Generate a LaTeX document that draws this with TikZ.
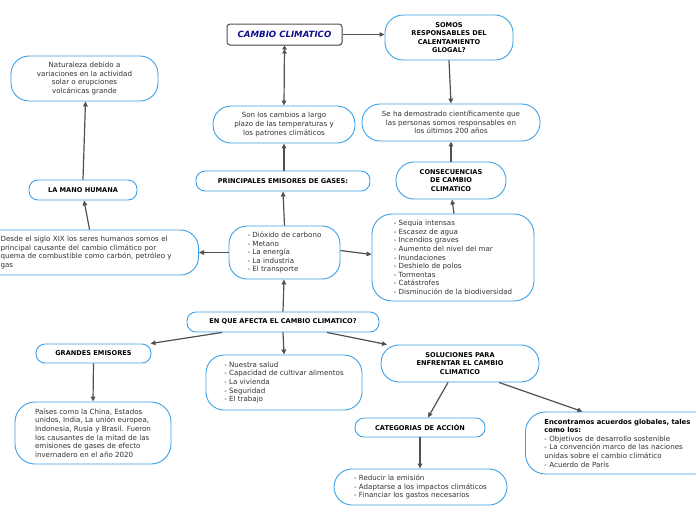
\documentclass[tikz,border=0pt]{standalone}
\usepackage{fontspec}
\setmainfont{DejaVu Sans}
\usetikzlibrary{arrows.meta,shadows}
\definecolor{nodeblue}{RGB}{61,160,230}
\definecolor{linegrey}{RGB}{80,80,80}
\definecolor{txtgrey}{RGB}{50,50,50}
\definecolor{navy}{RGB}{16,16,140}
\tikzset{
  bubble/.style={draw=nodeblue, line width=0.9pt, fill=white, rounded corners=18pt,
    inner sep=0pt, text=txtgrey, font=\fontsize{7.1}{8.6}\selectfont},
  smallbubble/.style={bubble, rounded corners=9pt},
  boldtxt/.style={text=black, font=\fontsize{6.6}{8.6}\selectfont\bfseries},
  titlebox/.style={draw=linegrey, line width=1pt, fill=white, rounded corners=3pt,
    inner sep=0pt, text=navy, font=\fontsize{8.6}{10}\selectfont\bfseries\itshape,
    drop shadow={shadow xshift=0.8pt, shadow yshift=-0.8pt, opacity=0.35}},
  link/.style={draw=linegrey, line width=1.2pt, -{Triangle[length=5pt,width=4.5pt]}},
}
\begin{document}
\begin{tikzpicture}[x=1pt,y=-1pt]
\useasboundingbox (0,0) rectangle (696,520);

\node[titlebox, minimum width=115pt, minimum height=21pt] (cc) at (284.5,34.5) {CAMBIO CLIMATICO};

\node[bubble, boldtxt, minimum width=128pt, minimum height=45pt, align=center] (somos) at (449,37.5)
  {SOMOS\\RESPONSABLES DEL\\CALENTAMIENTO\\GLOGAL?};

\node[bubble, minimum width=147pt, minimum height=45pt, align=center] (nat) at (84.5,78.5)
  {Naturaleza debido a\\variaciones en la actividad\\solar o erupciones\\volcánicas grande};

\node[bubble, minimum width=142pt, minimum height=37pt, align=center] (son) at (284,124.5)
  {Son los cambios a largo\\plazo de las temperaturas y\\los patrones climáticos};

\node[bubble, minimum width=178pt, minimum height=37pt, align=center] (seha) at (451,122.5)
  {Se ha demostrado científicamente que\\las personas somos responsables en\\los últimos 200 años};

\node[bubble, boldtxt, minimum width=110pt, minimum height=37pt, align=center] (cons) at (451,180.5)
  {CONSECUENCIAS\\DE CAMBIO\\CLIMATICO};

\node[smallbubble, boldtxt, minimum width=174pt, minimum height=20pt] (prin) at (283,181)
  {PRINCIPALES EMISORES DE GASES:};

\node[smallbubble, boldtxt, minimum width=108pt, minimum height=20pt] (mano) at (83,190)
  {LA MANO HUMANA};

\node[bubble, text width=172pt, inner xsep=26pt, minimum height=45pt, align=left, anchor=east] (desde) at (199,252.5)
  {Desde el siglo XIX los seres humanos somos el\\principal causante del cambio climático por\\quema de combustible como carbón, petróleo y\\gas};

\node[bubble, minimum width=111pt, minimum height=53pt, align=left] (diox) at (284.5,252.5)
  {- Dióxido de carbono\\- Metano\\- La energía\\- La industria\\- El transporte};

\node[bubble, rounded corners=20pt, minimum width=162pt, minimum height=87pt, align=left] (seq) at (453,257.5)
  {- Sequia intensas\\- Escasez de agua\\- Incendios graves\\- Aumento del nivel del mar\\- Inundaciones\\- Deshielo de polos\\- Tormentas\\- Catástrofes\\- Disminución de la biodiversidad};

\node[smallbubble, boldtxt, minimum width=192pt, minimum height=20pt] (afecta) at (283,322)
  {EN QUE AFECTA EL CAMBIO CLIMATICO?};

\node[smallbubble, boldtxt, minimum width=115pt, minimum height=19pt] (grandes) at (93.5,353.5)
  {GRANDES EMISORES};

\node[bubble, minimum width=156pt, minimum height=55pt, align=left] (salud) at (284,382.5)
  {- Nuestra salud\\- Capacidad de cultivar alimentos\\- La vivienda\\- Seguridad\\- El trabajo};

\node[bubble, boldtxt, minimum width=158pt, minimum height=37pt, align=center] (sol) at (460,363.5)
  {SOLUCIONES PARA\\ENFRENTAR EL CAMBIO\\CLIMATICO};

\node[bubble, rounded corners=20pt, minimum width=156pt, minimum height=62pt, align=left] (paises) at (93,433)
  {Países como la China, Estados\\unidos, India, La unión europea,\\Indonesia, Rusia y Brasil. Fueron\\los causantes de la mitad de las\\emisiones de gases de efecto\\invernadero en el año 2020};

\node[smallbubble, boldtxt, minimum width=130pt, minimum height=19pt] (cat) at (420,427.5)
  {CATEGORIAS DE ACCIÓN};

\node[bubble, rounded corners=20pt, text width=156pt, inner xsep=19pt, minimum height=62pt, align=left, anchor=west] (enc) at (525,443)
  {{\color{black}\fontsize{6.8}{8.6}\selectfont\bfseries Encontramos acuerdos globales, tales\\como los:}\\- Objetivos de desarrollo sostenible\\- La convención marco de las naciones\\unidas sobre el cambio climático\\- Acuerdo de París};

\node[bubble, minimum width=173pt, minimum height=36pt, align=left] (red) at (420.5,487)
  {- Reducir la emisión\\- Adaptarse a los impactos climáticos\\- Financiar los gastos necesarios};

% connectors
\draw[link] (cc.east) -- (somos.west |- cc.east);
\draw[draw=linegrey, line width=1.2pt, {Triangle[length=4pt,width=4.5pt]Triangle[length=4pt,width=4.5pt]}-{Triangle[length=5pt,width=4.5pt]}] (cc.south) -- (son.north);
\draw[link] (somos.south) -- (seha.north);
\draw[link] (cons.north) -- (seha.south);
\draw[link] ([xshift=1pt]seq.north) -- ([xshift=1pt]cons.south);
\draw[link] ([xshift=1pt]prin.north) -- (son.south);
\draw[link] (diox.north) -- (prin.south);
\draw[link] (diox.west) -- (desde.east);
\draw[link] ([yshift=2pt]diox.east) -- ([yshift=3pt]seq.west);
\draw[link] ([xshift=3pt]desde.north) -- ([xshift=1pt]mano.south);
\draw[link] (mano.north) -- ([xshift=1pt]nat.south);
\draw[link] (afecta.north) -- ([xshift=-0.5pt]diox.south);
\draw[link] ([xshift=-61pt]afecta.south) -- ([xshift=57pt]grandes.north);
\draw[link] (afecta.south) -- (salud.north);
\draw[link] ([xshift=44pt]afecta.south) -- ([xshift=-73pt]sol.north);
\draw[link] (grandes.south) -- (paises.north);
\draw[link] ([xshift=-12pt]sol.south) -- ([xshift=8pt]cat.north);
\draw[link] ([xshift=39pt]sol.south) -- ([xshift=-40pt]enc.north);
\draw[link] (cat.south) -- (cat.south |- red.north);
\end{tikzpicture}
\end{document}
